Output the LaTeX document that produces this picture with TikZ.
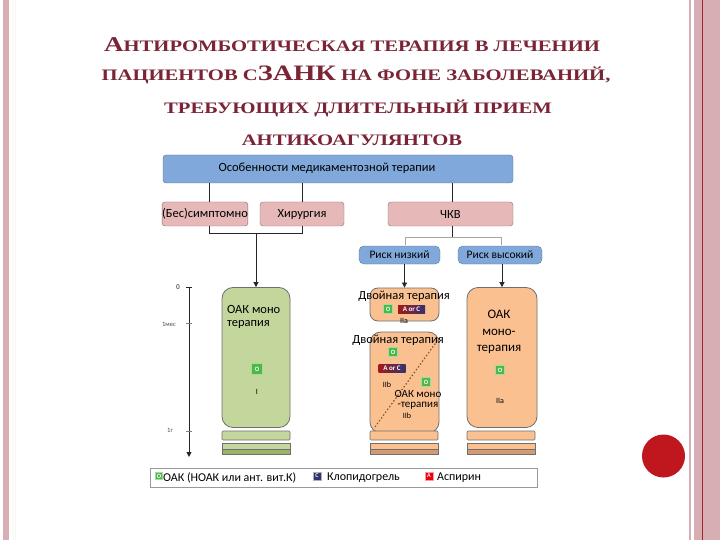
\documentclass[tikz,border=0pt]{standalone}
\usepackage{fontspec}
\setmainfont{Carlito}
\newfontfamily\titlefont[FakeStretch=1.29]{Liberation Serif Bold}
\usetikzlibrary{arrows.meta}
\definecolor{titlered}{HTML}{7A2436}
\definecolor{stripepink}{HTML}{D7AEB3}
\definecolor{darkline}{HTML}{A0262C}
\definecolor{dotred}{HTML}{C0171E}
\definecolor{boxblue}{HTML}{80A8DA}
\definecolor{boxpink}{HTML}{E6B9B8}
\definecolor{boxgreen}{HTML}{C3D69B}
\definecolor{darkgreen}{HTML}{9BB46A}
\definecolor{boxorange}{HTML}{FAC090}
\definecolor{darkorange}{HTML}{D69A72}
\definecolor{ogreen}{HTML}{4CB848}
\definecolor{bordergray}{HTML}{6F6F6F}
\tikzset{
  bluebox/.style={draw=boxblue!70!black, fill=boxblue, rounded corners=3pt, inner sep=0pt, font=\fontsize{12.5}{12.5}\selectfont},
  pinkbox/.style={draw=boxpink!60!black, fill=boxpink, rounded corners=3pt, inner sep=0pt, font=\fontsize{12.5}{12.5}\selectfont},
  col/.style={draw=bordergray, line width=0.8pt, rounded corners=11pt, inner sep=0pt},
  lbl/.style={font=\fontsize{12.5}{13}\selectfont, inner sep=0pt, align=center},
  small/.style={font=\fontsize{8}{8}\selectfont, inner sep=0pt},
  tiny/.style={font=\fontsize{6.5}{6.5}\selectfont, inner sep=0pt, text=black!70},
  osq/.style={fill=ogreen, draw=ogreen!50!white, line width=0.8pt, minimum size=9pt, inner sep=0pt, text=white, font=\fontsize{6.5}{6}\selectfont\bfseries},
  aorc/.style={left color=red!60!black!90, right color=blue!30!black!80, minimum width=27pt, minimum height=8pt, inner sep=0pt, text=white, font=\fontsize{7}{6}\selectfont\bfseries},
  conn/.style={draw=black!85, line width=0.7pt},
  arr/.style={conn, -{Triangle[length=5pt,width=5pt]}},
  stripe/.style={draw=bordergray, line width=0.6pt},
  tline/.style={font=\titlefont\fontsize{16}{16}\selectfont, text=titlered, inner sep=0pt}
}
\begin{document}
\begin{tikzpicture}[x=1pt,y=-1pt]
\useasboundingbox (0,0) rectangle (720,540);
\fill[white] (0,0) rectangle (720,540);
% side decorations
\fill[stripepink] (3,0) rectangle (9,540);
\fill[green!4] (12,0) rectangle (14,540);
\fill[red!5] (15,0) rectangle (16,540);
\fill[stripepink] (688.5,0) rectangle (690.5,540);
\fill[stripepink] (694,0) rectangle (720,540);
\fill[darkline] (701.5,0) rectangle (702.7,540);
\fill[dotred] (663.5,456) circle (21.5);
% title
\node[tline] (t1) at (352,45) {{\fontsize{21}{21}\selectfont А}НТИРОМБОТИЧЕСКАЯ ТЕРАПИЯ В ЛЕЧЕНИИ};
\node[tline] (t2) at (356,75) {ПАЦИЕНТОВ С{\fontsize{22}{22}\selectfont ЗАНК} НА ФОНЕ ЗАБОЛЕВАНИЙ,};
\node[tline] (t3) at (358,108) {ТРЕБУЮЩИХ ДЛИТЕЛЬНЫЙ ПРИЕМ};
\node[tline] (t4) at (352,140) {АНТИКОАГУЛЯНТОВ};
% top boxes
\node[bluebox, minimum width=350pt, minimum height=28pt] (top) at (338,169) {};
\node[font=\fontsize{12.5}{12.5}\selectfont, inner sep=0pt] (toptxt) at (327,168) {Особенности медикаментозной терапии};
\node[pinkbox, minimum width=84pt, minimum height=24pt] (bes) at (205,214) {(Бес)симптомно};
\node[pinkbox, minimum width=84pt, minimum height=24pt] (hir) at (302,214) {Хирургия};
\node[pinkbox, minimum width=125pt, minimum height=24pt] (chkv) at (450.5,214) {ЧКВ};
\draw[conn] (bes.north -| 209,0) -- (209,183);
\draw[conn] (hir.north) -- (hir.north |- top.south);
\draw[conn] (452,202) -- (452,183);
% risk boxes
\node[bluebox, rounded corners=5pt, minimum width=81pt, minimum height=18pt, font=\fontsize{11.5}{11.5}\selectfont] (rl) at (399.5,255) {Риск низкий};
\node[bluebox, rounded corners=5pt, minimum width=84pt, minimum height=18pt, font=\fontsize{11.5}{11.5}\selectfont] (rh) at (500,255) {Риск высокий};
% columns
\node[col, fill=boxgreen, minimum width=68pt, minimum height=140pt] (g) at (256,357.5) {};
\node[col, fill=boxorange, minimum width=69pt, minimum height=33pt, rounded corners=8pt] (d1) at (404.5,304.5) {};
\node[col, fill=boxorange, minimum width=69pt, minimum height=101pt] (d2) at (404.5,382.5) {};
\node[col, fill=boxorange, minimum width=70pt, minimum height=140pt] (h) at (502,357.5) {};
% connectors
\coordinate (j1) at (256,233);
\draw[conn] (bes.south -| 209,0) -- (209,233) -- (302,233) -- (hir.south);
\draw[arr] (j1) -- (g.north);
\coordinate (j2) at (452,237);
\draw[conn] (chkv.south -| j2) -- (j2);
\draw[draw=black!35, line width=0.6pt] (405,245) -- (405,237) -- (501,237) -- (501,245);
\draw[arr] (rl.south -| d1.north) -- (d1.north);
\draw[arr] (rh.south -| h.north) -- (h.north);
% stripes
\foreach \cx/\fc/\dc in {222/boxgreen/darkgreen, 370/boxorange/darkorange, 467/boxorange/darkorange}{
  \draw[stripe, fill=\fc, rounded corners=1pt] (\cx,431) rectangle ++(68,9);
  \draw[stripe, fill=\fc] (\cx,443) rectangle ++(68,6);
  \draw[stripe, fill=\dc] (\cx,449) rectangle ++(68,5);
}
% green column texts
\node[lbl, align=left, anchor=north west] (gt) at (227,305) {ОАК моно\\терапия};
\node[osq, minimum size=10.5pt] (go) at (257,369) {O};
\node[small] (gi) at (257,392) {I};
% dual box 1
\node[lbl] (d1t) at (404,296) {Двойная терапия};
\node[osq] (d1o) at (388,309) {O};
\node[aorc] (d1a) at (411.5,309) {A or C};
\node[small] (d1i) at (404,321) {IIa};
% dual box 2
\draw[draw=brown!70!black, line width=1.2pt, dash pattern=on 1.5pt off 2pt] (375,427) -- (440,337);
\node[lbl] (d2t) at (398,340) {Двойная терапия};
\node[osq] (d2o) at (393,352) {O};
\node[aorc] (d2a) at (392,368) {A or C};
\node[small] (d2i) at (387,385) {IIb};
\node[osq] (d2o2) at (426,382) {O};
\node[lbl, font=\fontsize{11}{10.5}\selectfont] (d2m) at (418,400) {ОАК моно\\-терапия};
\node[small] (d2i2) at (407,416) {IIb};
% high risk column
\node[lbl, font=\fontsize{13}{16.5}\selectfont] (ht) at (499,332) {ОАК\\моно-\\терапия};
\node[osq] (ho) at (500,370) {O};
\node[small] (hi) at (500,401) {IIa};
% time axis
\coordinate (ax0) at (189,287);
\coordinate (ax1) at (189,457);
\draw[arr, line width=0.8pt] (ax0) -- (ax1);
\draw[conn, line width=0.5pt] (186,287) -- (192,287);
\draw[conn, line width=0.4pt, draw=black!50] (186,323) -- (192,323);
\draw[conn, line width=0.4pt, draw=black!50] (186,431) -- (192,431);
\node[tiny, font=\fontsize{7.5}{7.5}\selectfont\bfseries, text=black!60] (l0) at (178,287) {0};
\node[tiny] (l1) at (169,324) {1мес};
\node[tiny] (l2) at (170,430) {1г};
% legend
\draw[draw=black!40, line width=0.8pt] (150,468) rectangle (537,487);
\node[osq, minimum size=7pt] (lo) at (159,476) {O};
\node[lbl, anchor=west, font=\fontsize{12}{12}\selectfont] (lot) at (163,478) {ОАК (НОАК или ант. вит.К)};
\node[fill=blue!30!black!80, draw=black!30, minimum size=8pt, inner sep=0pt, text=white, font=\fontsize{6}{5}\selectfont\bfseries] (lc) at (317,476) {C};
\node[lbl, anchor=west, font=\fontsize{12}{12}\selectfont] (lct) at (327,478) {Клопидогрель};
\node[fill=red!75!purple, draw=red!40, minimum size=8pt, inner sep=0pt, text=white, font=\fontsize{6}{5}\selectfont\bfseries] (la) at (429,476) {A};
\node[lbl, anchor=west, font=\fontsize{12}{12}\selectfont] (lat) at (437,478) {Аспирин};
\end{tikzpicture}
\end{document}
